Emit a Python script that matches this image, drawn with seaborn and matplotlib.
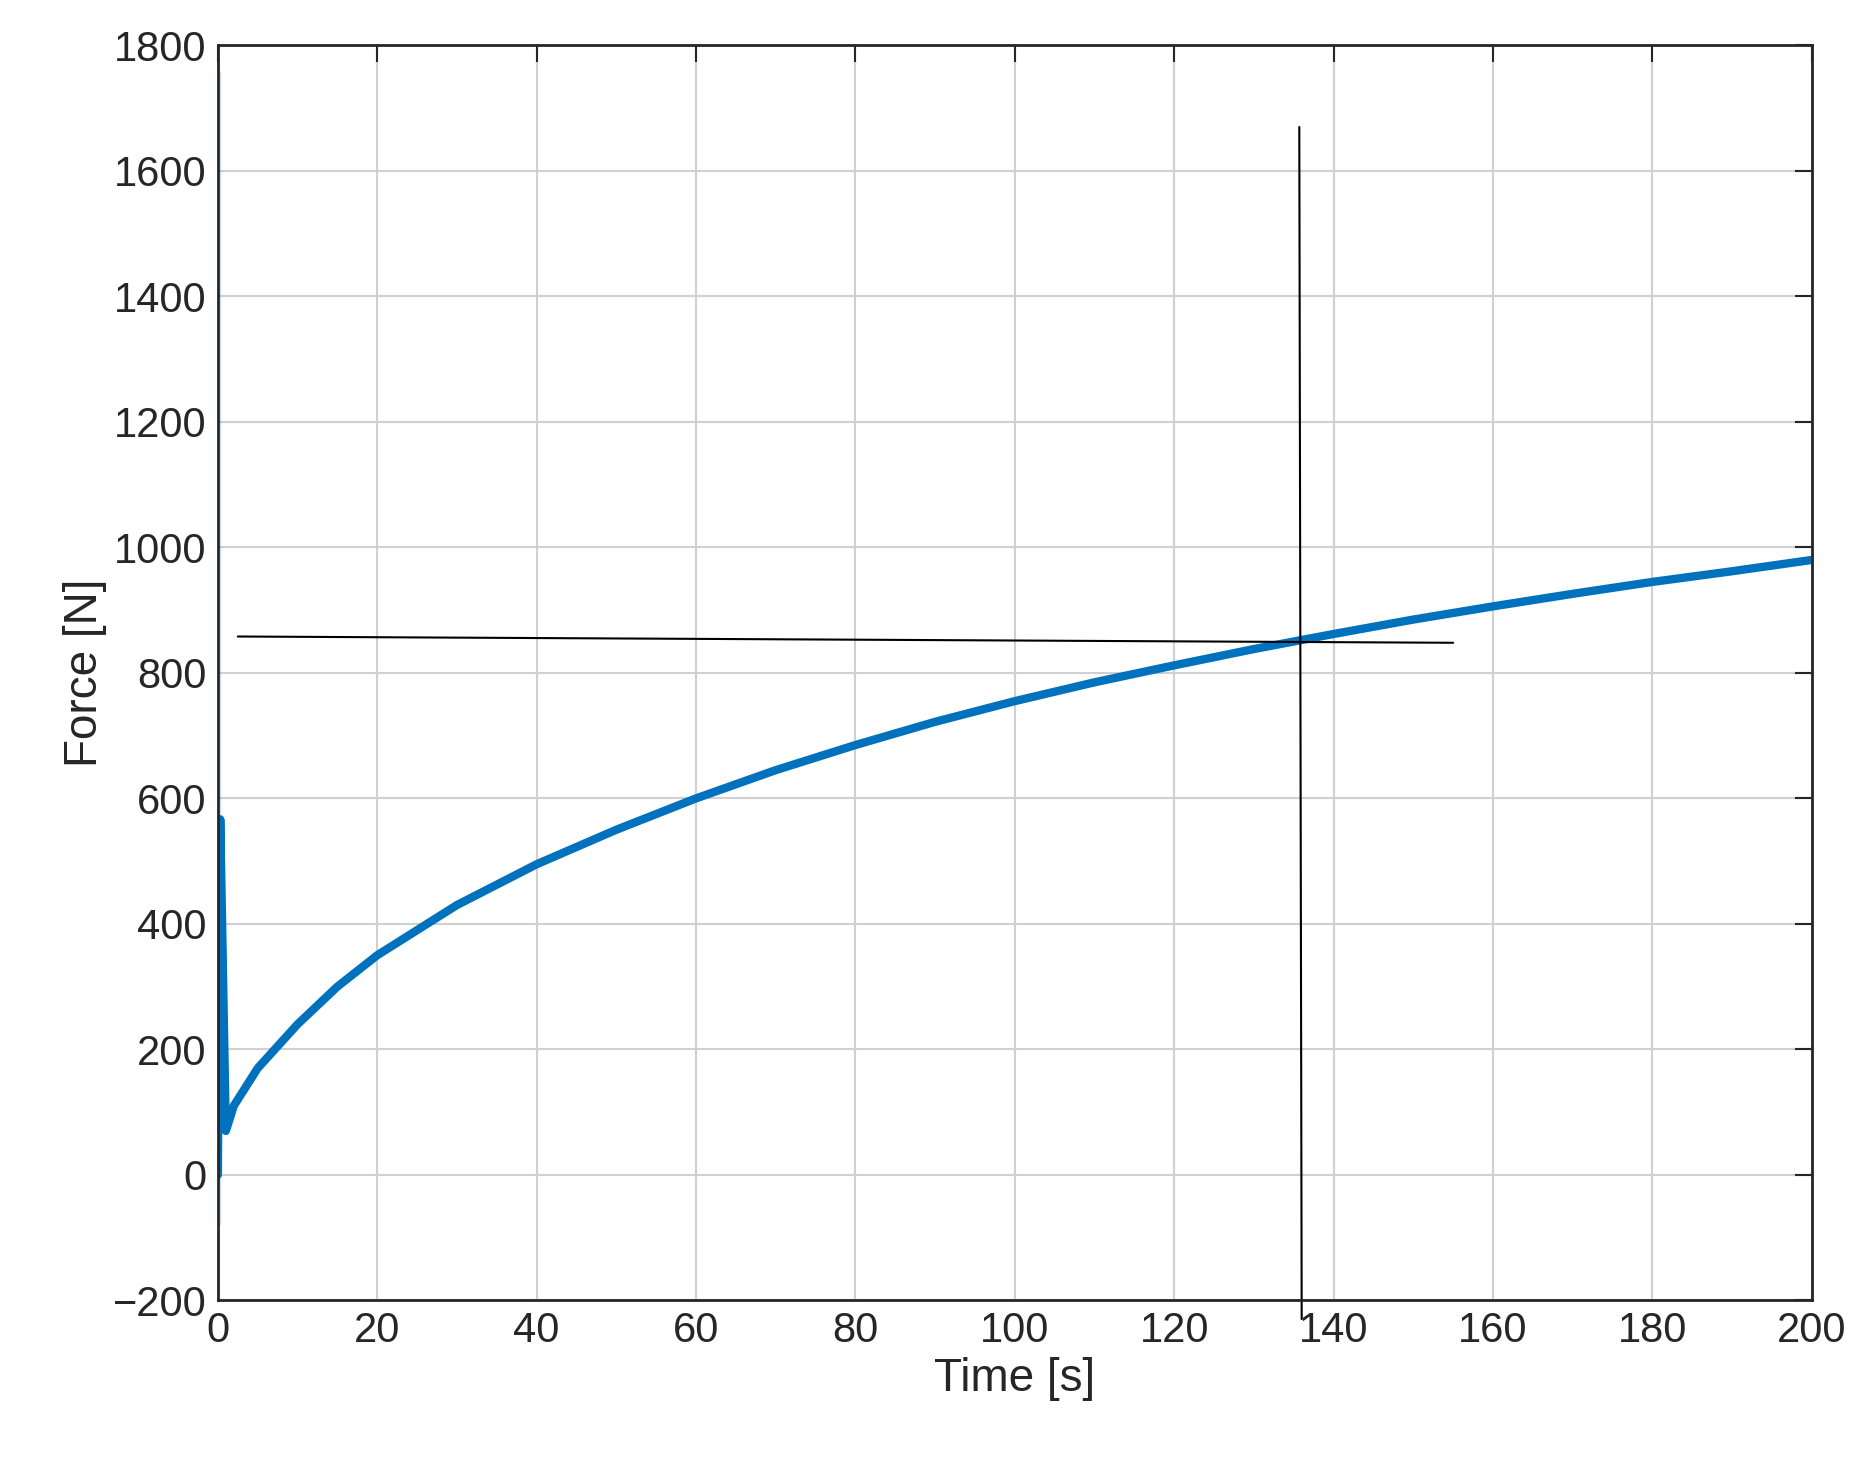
import numpy as np
import pandas as pd
import seaborn as sns
import matplotlib.pyplot as plt

# Curve values
time_s = [0.0, 0.3, 0.3, 0.3, 1, 2, 5, 10, 15, 20, 30, 40, 50, 60, 70, 80, 90, 100,
          110, 120, 130, 135, 140, 150, 160, 170, 180, 190, 200]
force_n = [0, 1760, -80, 20, 70, 110, 170, 240, 300, 350, 430, 495, 550, 600, 645, 685,
           722, 755, 785, 812, 838, 850, 862, 885, 906, 926, 945, 962, 980]

# Crosshair markers
hline_x = [2.5, 155]
hline_y = [858, 848]
vline_x = [135.7, 136.0]
vline_y = [1670, -230]

sns.set_style('white')
plt.rcParams['font.family'] = ['Liberation Sans', 'DejaVu Sans']

fig = plt.figure(figsize=(18.62, 14.66), dpi=100)
ax = fig.add_axes([0.117, 0.113, 0.856, 0.856])

df = pd.DataFrame({'Time [s]': time_s, 'Force [N]': force_n})
sns.lineplot(data=df, x='Time [s]', y='Force [N]', sort=False, color='#0072BD',
             linewidth=6, ax=ax, solid_capstyle='round')
ax.plot(hline_x, hline_y, color='black', linewidth=1.5, clip_on=False)
ax.plot(vline_x, vline_y, color='black', linewidth=1.5, clip_on=False)

ax.set_xlim(0, 200)
ax.set_ylim(-200, 1800)
ax.set_xticks(np.arange(0, 201, 20))
ax.set_yticks(np.arange(-200, 1801, 200))
ax.grid(True, color='#d0d0d0', linewidth=1.5)
ax.tick_params(direction='in', which='both', top=True, right=True, length=12,
               width=1.5, labelsize=30, colors='#262626', pad=8)
for s in ax.spines.values():
    s.set_linewidth(2)
    s.set_color('#262626')
ax.set_xlabel('Time [s]', fontsize=33, color='#262626')
ax.set_ylabel('Force [N]', fontsize=33, color='#262626')

fig.savefig('out.png', dpi=100)
